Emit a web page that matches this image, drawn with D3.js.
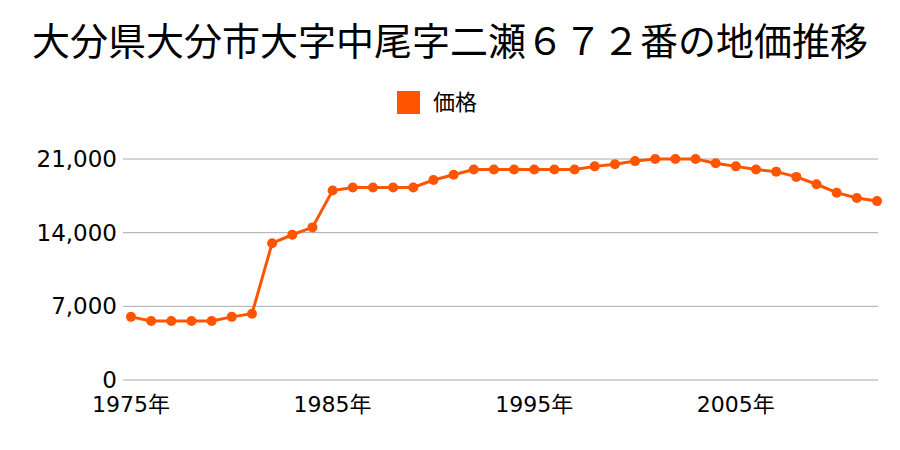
<!DOCTYPE html>
<html><head><meta charset="utf-8">
<script src="https://cdn.jsdelivr.net/npm/d3@7"></script>
<style>body{margin:0;background:#fff}svg{display:block}text{font-family:"Noto Sans CJK JP","Noto Sans",sans-serif}.num{font-family:"DejaVu Sans","Noto Sans CJK JP",sans-serif}</style>
</head><body>
<svg id="c" width="900" height="450"></svg>
<script>
const title = "大分県大分市大字中尾字二瀬６７２番の地価推移";
const seriesName = "価格";
const years = d3.range(1975, 2013);
const values = [6000,5600,5600,5600,5600,6000,6300,13000,13800,14500,18000,18300,18300,18300,18300,19000,19500,20000,20000,20000,20000,20000,20000,20300,20500,20800,21000,21000,21000,20600,20300,20000,19800,19300,18600,17800,17300,17000];
const yTicks = [0,7000,14000,21000];
const xTicks = [1975,1985,1995,2005];
const color = "#ff5500";

const svg = d3.select("#c");
const x = d3.scaleLinear().domain([1975,2012]).range([131,877]);
const y = d3.scaleLinear().domain([0,21000]).range([380,159]);

svg.append("text").attr("x",450).attr("y",55).attr("text-anchor","middle")
  .attr("font-size",38).attr("fill","#000").text(title);

svg.append("rect").attr("x",397).attr("y",91).attr("width",23).attr("height",23).attr("fill",color);
svg.append("text").attr("x",433).attr("y",110).attr("font-size",22).attr("fill","#000").text(seriesName);

const g = svg.append("g");
g.selectAll("line.grid").data(yTicks).join("line")
  .attr("x1",123).attr("x2",878).attr("y1",d=>y(d)).attr("y2",d=>y(d))
  .attr("stroke","#aaa").attr("stroke-width",1);
g.selectAll("text.yl").data(yTicks).join("text").attr("class","num")
  .attr("x",117).attr("y",d=>y(d)+8).attr("text-anchor","end")
  .attr("font-size",23).attr("fill","#000").text(d=>d3.format(",")(d));
g.selectAll("text.xl").data(xTicks).join("text").attr("class","num")
  .attr("x",d=>x(d)).attr("y",412).attr("text-anchor","middle")
  .attr("font-size",22).attr("fill","#000").text(d=>d+"年");

const data = years.map((yr,i)=>({yr, v:values[i]}));
svg.append("path").datum(data)
  .attr("d", d3.line().x(d=>x(d.yr)).y(d=>y(d.v)))
  .attr("fill","none").attr("stroke",color).attr("stroke-width",3);
svg.selectAll("circle").data(data).join("circle")
  .attr("cx",d=>x(d.yr)).attr("cy",d=>y(d.v)).attr("r",5).attr("fill",color);
</script>
</body></html>
